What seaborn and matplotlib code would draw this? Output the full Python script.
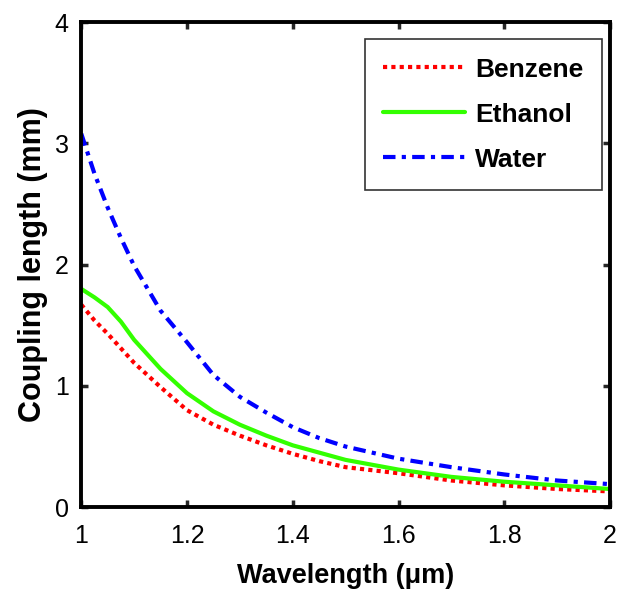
import numpy as np
import pandas as pd
import matplotlib
matplotlib.use("Agg")
import matplotlib.pyplot as plt
import seaborn as sns

# valores
wavelength = [1.0, 1.025, 1.05, 1.075, 1.1, 1.15, 1.2, 1.25, 1.3, 1.35, 1.4, 1.45, 1.5, 1.6, 1.7, 1.8, 1.9, 2.0]
benzene = [1.67, 1.54, 1.43, 1.31, 1.19, 0.99, 0.80, 0.68, 0.59, 0.51, 0.44, 0.38, 0.33, 0.28, 0.22, 0.18, 0.15, 0.13]
ethanol = [1.80, 1.73, 1.65, 1.53, 1.38, 1.14, 0.94, 0.79, 0.68, 0.59, 0.51, 0.45, 0.39, 0.31, 0.25, 0.21, 0.18, 0.15]
water = [3.08, 2.75, 2.47, 2.22, 1.99, 1.62, 1.36, 1.09, 0.91, 0.78, 0.66, 0.57, 0.50, 0.40, 0.33, 0.27, 0.22, 0.19]
xticks = [1, 1.2, 1.4, 1.6, 1.8, 2]
xticklabels = ["1", "1.2", "1.4", "1.6", "1.8", "2"]
yticks = [0, 1, 2, 3, 4]

df = pd.DataFrame({"wl": wavelength, "Benzene": benzene, "Ethanol": ethanol, "Water": water})

sns.set_style("ticks")
plt.rcParams["font.family"] = ["Liberation Sans", "DejaVu Sans"]

fig = plt.figure(figsize=(6.25, 5.96), dpi=100)
ax = fig.add_axes([0.13, 0.149, 0.846, 0.814])

sns.lineplot(data=df, x="wl", y="Benzene", ax=ax, color="#ff0000", lw=3, ls=(0, (1, 1)), label="Benzene")
sns.lineplot(data=df, x="wl", y="Ethanol", ax=ax, color="#33ff00", lw=3, ls="-", label="Ethanol")
sns.lineplot(data=df, x="wl", y="Water", ax=ax, color="#0000ff", lw=3, ls=(0, (3, 1.5, 1, 1.5)), label="Water")

ax.set_xlim(1, 2)
ax.set_ylim(0, 4)
ax.set_xticks(xticks)
ax.set_xticklabels(xticklabels)
ax.set_yticks(yticks)
for s in ax.spines.values():
    s.set_linewidth(2.8)
    s.set_color("black")
ax.tick_params(direction="in", length=5, width=2.5, labelsize=18, labelcolor="black",
               top=True, right=True)
ax.tick_params(axis="x", pad=12)
ax.tick_params(axis="y", pad=9)

ax.set_xlabel("Wavelength (\u03bcm)", fontsize=19.5, fontweight="bold", labelpad=11, color="black")
ax.set_ylabel("Coupling length (mm)", fontsize=22, fontweight="bold", labelpad=5, color="black")

leg = ax.legend(loc="upper right", fontsize=19, handlelength=3.1, frameon=True, fancybox=False,
                borderpad=0.7, labelspacing=0.8, handletextpad=0.4, borderaxespad=0,
                bbox_to_anchor=(0.985, 0.965))
leg.get_frame().set_edgecolor("black")
leg.get_frame().set_linewidth(1.2)
for t in leg.get_texts():
    t.set_fontweight("bold")
    t.set_color("black")

plt.savefig("out.png", dpi=100)
